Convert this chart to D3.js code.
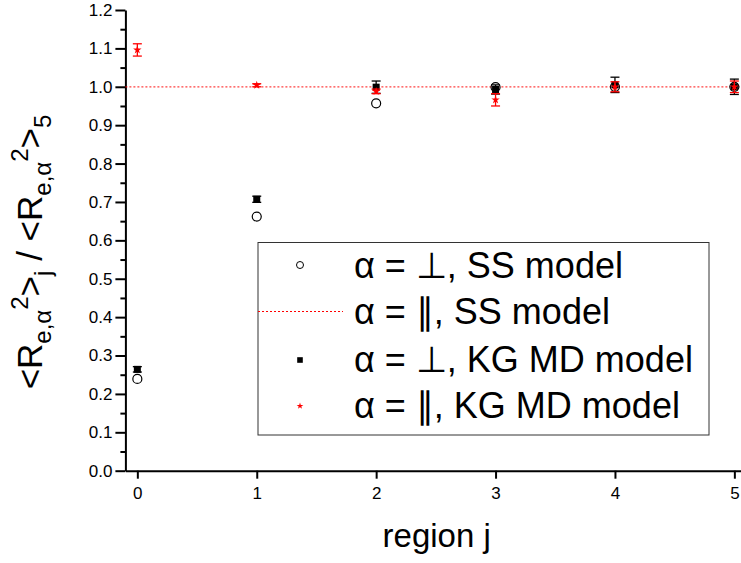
<!DOCTYPE html>
<html>
<head>
<meta charset="utf-8">
<script src="https://cdn.jsdelivr.net/npm/d3@7"></script>
<style>
  body { margin: 0; background: #fff; }
  svg { display: block; font-family: "Liberation Sans", Arial, sans-serif; }
</style>
</head>
<body>
<div id="chart"></div>
<script>
// region index on the x axis
var regions = [0, 1, 2, 3, 4, 5];
// alpha = perp, SS model (open circles)
var ssPerp = [0.239, 0.662, 0.957, 0.999, 1.0, 1.0];
// alpha = par, SS model (dotted reference line)
var ssPar = 1.0;
// alpha = perp, KG MD model (filled squares + error)
var kgPerp = [0.264, 0.707, 0.999, 0.993, 1.005, 1.0];
var kgPerpErr = [0.007, 0.008, 0.016, 0.012, 0.02, 0.02];
// alpha = par, KG MD model (red stars + error)
var kgPar = [1.096, 1.004, 0.988, 0.966, 1.0, 1.0];
var kgParErr = [0.016, 0.004, 0.006, 0.016, 0.013, 0.015];

var yTickValues = [0, 0.1, 0.2, 0.3, 0.4, 0.5, 0.6, 0.7, 0.8, 0.9, 1.0, 1.1, 1.2];
var xTickValues = [0, 1, 2, 3, 4, 5];
var legendLabels = ["\u03b1 = \u22a5, SS model", "\u03b1 = \u2225, SS model",
                    "\u03b1 = \u22a5, KG MD model", "\u03b1 = \u2225, KG MD model"];

var width = 741, height = 563;
var svg = d3.select("#chart").append("svg")
    .attr("width", width)
    .attr("height", height);

var xScale = d3.scaleLinear().domain([-0.1, 5.1]).range([125.4, 746.3]);
var yScale = d3.scaleLinear().domain([0, 1.2]).range([470.7, 10]);

// axes
var yAxis = d3.axisLeft(yScale).tickValues(yTickValues).tickFormat(d3.format(".1f"))
    .tickSizeInner(10).tickSizeOuter(0).tickPadding(3);
var yMinor = d3.axisLeft(yScale).tickValues(yTickValues.slice(1).map(function (d) { return d - 0.05; }))
    .tickSize(5).tickFormat("");
var xAxis = d3.axisBottom(xScale).tickValues(xTickValues).tickFormat(d3.format("d"))
    .tickSizeInner(8).tickSizeOuter(0).tickPadding(8);

var gy = svg.append("g").attr("transform", "translate(" + xScale(-0.1) + ",0)").call(yAxis);
var gyMinor = svg.append("g").attr("transform", "translate(" + xScale(-0.1) + ",0)").call(yMinor);
gyMinor.select(".domain").remove();
var gx = svg.append("g").attr("transform", "translate(0," + yScale(0) + ")").call(xAxis);

[gy, gyMinor, gx].forEach(function (g) {
    g.attr("font-family", null).attr("font-size", 17);
    g.selectAll("path, line").attr("stroke", "#000").attr("stroke-width", 2);
    g.selectAll("text").attr("fill", "#000");
});

// SS parallel: dotted line across the whole x range
svg.append("line")
    .attr("x1", xScale.range()[0]).attr("x2", xScale.range()[1])
    .attr("y1", yScale(ssPar)).attr("y2", yScale(ssPar))
    .attr("stroke", "#f00").attr("stroke-width", 1.2)
    .attr("stroke-dasharray", "2,2").attr("opacity", 0.75);

function errorBars(values, errs, color) {
    var g = svg.append("g").attr("stroke", color).attr("stroke-width", 1.3);
    regions.forEach(function (r, i) {
        var x = xScale(r), y0 = yScale(values[i] - errs[i]), y1 = yScale(values[i] + errs[i]);
        g.append("line").attr("x1", x).attr("x2", x).attr("y1", y0).attr("y2", y1);
        g.append("line").attr("x1", x - 4.5).attr("x2", x + 4.5).attr("y1", y0).attr("y2", y0);
        g.append("line").attr("x1", x - 4.5).attr("x2", x + 4.5).attr("y1", y1).attr("y2", y1);
    });
}

// SS perp circles
svg.append("g").selectAll("circle").data(ssPerp).join("circle")
    .attr("cx", function (d, i) { return xScale(regions[i]); })
    .attr("cy", function (d) { return yScale(d); })
    .attr("r", 4.5)
    .attr("fill", "none").attr("stroke", "#000").attr("stroke-width", 1.2);

// KG perp squares
errorBars(kgPerp, kgPerpErr, "#000");
svg.append("g").selectAll("rect").data(kgPerp).join("rect")
    .attr("x", function (d, i) { return xScale(regions[i]) - 3.5; })
    .attr("y", function (d) { return yScale(d) - 3.5; })
    .attr("width", 7).attr("height", 7)
    .attr("fill", "#000");

// KG par stars
errorBars(kgPar, kgParErr, "#f00");
var star = d3.symbol().type(d3.symbolStar).size(22);
svg.append("g").selectAll("path").data(kgPar).join("path")
    .attr("transform", function (d, i) { return "translate(" + xScale(regions[i]) + "," + yScale(d) + ")"; })
    .attr("d", star)
    .attr("fill", "#f00");

// legend
var legend = svg.append("g");
legend.append("rect")
    .attr("x", 258).attr("y", 242.5).attr("width", 451).attr("height", 192.5)
    .attr("fill", "#fff").attr("stroke", "#333").attr("stroke-width", 1);
var rowBase = [278, 323.5, 371.5, 418];
legend.selectAll("text").data(legendLabels).join("text")
    .attr("x", 354).attr("y", function (d, i) { return rowBase[i]; })
    .attr("font-size", 36).attr("fill", "#000")
    .text(function (d) { return d; });
legend.append("circle").attr("cx", 300).attr("cy", rowBase[0] - 13).attr("r", 3.5)
    .attr("fill", "none").attr("stroke", "#000").attr("stroke-width", 1);
legend.append("line").attr("x1", 258).attr("x2", 343).attr("y1", rowBase[1] - 12).attr("y2", rowBase[1] - 12)
    .attr("stroke", "#f00").attr("stroke-width", 1).attr("stroke-dasharray", "2,2");
legend.append("rect").attr("x", 297.2).attr("y", rowBase[2] - 14.3).attr("width", 5.6).attr("height", 5.6)
    .attr("fill", "#000");
legend.append("path").attr("transform", "translate(300," + (rowBase[3] - 12) + ")")
    .attr("d", d3.symbol().type(d3.symbolStar).size(14)).attr("fill", "#f00");

// axis titles
svg.append("text")
    .attr("x", 436.7).attr("y", 546.7)
    .attr("text-anchor", "middle").attr("font-size", 33).attr("fill", "#000")
    .text("region j");

var yTitle = svg.append("text")
    .attr("transform", "translate(42,252) rotate(-90)")
    .attr("text-anchor", "middle").attr("fill", "#000")
    .style("white-space", "pre");
var parts = [
    {t: "<R", s: 35, dy: 0},
    {t: "e,\u03b1", s: 24, dy: 9},
    {t: "2", s: 24, dy: -23},
    {t: ">", s: 35, dy: 14},
    {t: "j", s: 24, dy: 9},
    {t: " / ", s: 35, dy: -9},
    {t: "<R", s: 35, dy: 0},
    {t: "e,\u03b1", s: 24, dy: 9},
    {t: "2", s: 24, dy: -23},
    {t: ">", s: 35, dy: 14},
    {t: "5", s: 24, dy: 9}
];
parts.forEach(function (p) {
    yTitle.append("tspan").attr("font-size", p.s).attr("dy", p.dy).text(p.t);
});
</script>
</body>
</html>
